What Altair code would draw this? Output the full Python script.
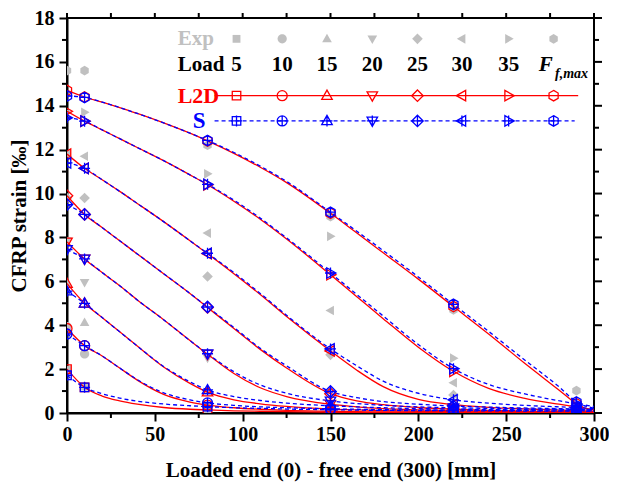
import altair as alt
import pandas as pd

# ---------------- data ----------------
X_GRID = [0, 10, 20, 30, 40, 55, 70, 80, 95, 110, 125, 150, 165, 180, 200, 220, 240, 260, 280, 290, 300]
LOADS = ["5", "10", "15", "20", "25", "30", "35", "Ffmax"]
MARKER_X = [0, 10, 80, 150, 220, 290]

L2D_5 = [2.00, 1.17, 0.77, 0.55, 0.40, 0.25, 0.17, 0.14, 0.10, 0.08, 0.06, 0.04, 0.03, 0.03, 0.02, 0.02, 0.02, 0.02, 0.02, 0.02, 0.02]
S_5 = [1.72, 1.17, 0.88, 0.68, 0.54, 0.41, 0.33, 0.29, 0.24, 0.21, 0.18, 0.15, 0.13, 0.12, 0.11, 0.10, 0.10, 0.09, 0.09, 0.08, 0.08]
L2D_10 = [3.85, 3.07, 2.60, 2.05, 1.50, 0.85, 0.50, 0.36, 0.24, 0.17, 0.12, 0.08, 0.06, 0.05, 0.04, 0.03, 0.03, 0.02, 0.02, 0.02, 0.02]
S_10 = [3.60, 3.07, 2.60, 2.05, 1.52, 0.92, 0.60, 0.46, 0.35, 0.28, 0.24, 0.19, 0.17, 0.15, 0.14, 0.13, 0.12, 0.11, 0.10, 0.10, 0.10]
L2D_15 = [5.90, 5.00, 4.35, 3.70, 3.05, 2.10, 1.35, 0.95, 0.60, 0.42, 0.30, 0.18, 0.14, 0.11, 0.08, 0.06, 0.05, 0.04, 0.03, 0.03, 0.03]
S_15 = [5.55, 5.00, 4.35, 3.70, 3.05, 2.12, 1.42, 1.05, 0.75, 0.57, 0.45, 0.33, 0.28, 0.24, 0.20, 0.18, 0.16, 0.15, 0.14, 0.13, 0.13]
L2D_20 = [7.80, 7.02, 6.40, 5.80, 5.15, 4.25, 3.30, 2.68, 1.80, 1.15, 0.75, 0.40, 0.28, 0.20, 0.14, 0.10, 0.08, 0.06, 0.05, 0.04, 0.04]
S_20 = [7.45, 7.02, 6.40, 5.80, 5.15, 4.25, 3.30, 2.70, 1.88, 1.28, 0.90, 0.55, 0.43, 0.35, 0.28, 0.24, 0.21, 0.19, 0.17, 0.16, 0.15]
L2D_25 = [9.90, 9.05, 8.45, 7.85, 7.25, 6.35, 5.45, 4.81, 3.85, 2.90, 2.05, 0.88, 0.55, 0.38, 0.25, 0.17, 0.12, 0.09, 0.07, 0.06, 0.05]
S_25 = [9.50, 9.05, 8.45, 7.85, 7.25, 6.35, 5.45, 4.83, 3.90, 2.95, 2.15, 0.98, 0.70, 0.52, 0.40, 0.32, 0.27, 0.23, 0.20, 0.18, 0.16]
L2D_30 = [11.80, 11.15, 10.63, 10.10, 9.55, 8.72, 7.85, 7.26, 6.35, 5.40, 4.40, 2.83, 1.95, 1.20, 0.62, 0.38, 0.26, 0.19, 0.13, 0.11, 0.08]
S_30 = [11.40, 11.15, 10.63, 10.10, 9.55, 8.72, 7.85, 7.28, 6.40, 5.45, 4.45, 2.92, 2.15, 1.45, 0.90, 0.60, 0.45, 0.35, 0.28, 0.25, 0.20]
L2D_35 = [13.75, 13.30, 12.90, 12.50, 12.10, 11.50, 10.85, 10.40, 9.65, 8.83, 7.93, 6.30, 5.30, 4.30, 3.00, 1.90, 1.12, 0.68, 0.40, 0.28, 0.15]
S_35 = [13.45, 13.30, 12.90, 12.50, 12.10, 11.50, 10.85, 10.42, 9.70, 8.88, 7.98, 6.38, 5.40, 4.42, 3.12, 2.02, 1.30, 0.88, 0.56, 0.42, 0.30]
L2D_FF = [14.70, 14.40, 14.17, 13.92, 13.65, 13.22, 12.75, 12.40, 11.83, 11.20, 10.50, 9.10, 8.20, 7.30, 6.10, 4.85, 3.60, 2.30, 1.05, 0.42, 0.03]
S_FF = [14.45, 14.38, 14.17, 13.92, 13.65, 13.22, 12.75, 12.42, 11.87, 11.25, 10.55, 9.15, 8.28, 7.40, 6.20, 4.95, 3.72, 2.45, 1.20, 0.50, 0.22]

EXP_X = [0, 10, 80, 150, 220, 290]
EXP_5 = [1.96, 1.20, 0.15, 0.05, 0.03, 0.02]
EXP_10 = [3.94, 2.69, 0.30, 0.10, 0.05, 0.03]
EXP_15 = [5.90, 4.12, 1.00, 0.20, 0.05, 0.03]
EXP_20 = [7.85, 5.95, 2.50, 0.35, 0.10, 0.05]
EXP_25 = [9.80, 9.80, 6.22, 2.65, 0.82, 0.05]
EXP_30 = [11.80, 11.70, 8.20, 4.67, 1.38, 0.10]
EXP_35 = [13.70, 13.70, 10.90, 8.05, 2.50, 0.30]
EXP_FF = [15.60, 15.60, 12.20, 8.95, 4.70, 1.02]

# legend (in data units)
LEG_X = [96.5, 122.5, 148.0, 173.8, 199.5, 224.8, 251.4, 277.0]
LEG_NUM = ["5", "10", "15", "20", "25", "30", "35"]
LEG_Y_EXP = 17.05
LEG_Y_LOAD = 15.86
LEG_Y_L2D = 14.46
LEG_Y_S = 13.31
LEG_LINE_L2D = [84.0, 291.0]
LEG_LINE_S = [84.0, 289.0]

X_MAJOR = [0, 50, 100, 150, 200, 250, 300]
X_MINOR = [25, 75, 125, 175, 225, 275]
Y_MAJOR = [0, 2, 4, 6, 8, 10, 12, 14, 16, 18]
Y_MINOR = [1, 3, 5, 7, 9, 11, 13, 15, 17]

# ---------------- build tables ----------------
l2d = [L2D_5, L2D_10, L2D_15, L2D_20, L2D_25, L2D_30, L2D_35, L2D_FF]
s_ = [S_5, S_10, S_15, S_20, S_25, S_30, S_35, S_FF]
exps = [EXP_5, EXP_10, EXP_15, EXP_20, EXP_25, EXP_30, EXP_35, EXP_FF]

rows_l2d, rows_s, rows_exp = [], [], []
for ld, a, b, e in zip(LOADS, l2d, s_, exps):
    for x, y in zip(X_GRID, a):
        rows_l2d.append({"x": x, "y": y, "load": ld})
    for x, y in zip(X_GRID, b):
        rows_s.append({"x": x, "y": y, "load": ld})
    for x, y in zip(EXP_X, e):
        rows_exp.append({"x": x, "y": y, "load": ld})
df_l2d = pd.DataFrame(rows_l2d)
df_s = pd.DataFrame(rows_s)
df_exp = pd.DataFrame(rows_exp)

mk_l2d = df_l2d[df_l2d.x.isin(MARKER_X)]
mk_s = df_s[df_s.x.isin(MARKER_X)]
mk_l2d = pd.concat([mk_l2d, pd.DataFrame({"x": LEG_X, "y": LEG_Y_L2D, "load": LOADS})])
mk_s = pd.concat([mk_s, pd.DataFrame({"x": LEG_X, "y": LEG_Y_S, "load": LOADS})])
mk_exp = pd.concat([df_exp, pd.DataFrame({"x": LEG_X, "y": LEG_Y_EXP, "load": LOADS})])

# ---------------- shapes ----------------
P = {
    "5": "M-0.85,-0.85L0.85,-0.85L0.85,0.85L-0.85,0.85Z",
    "10": "M1,0A1,1,0,1,1,-1,0A1,1,0,1,1,1,0Z",
    "15": "M0,-1.1L1.05,0.75L-1.05,0.75Z",
    "20": "M0,1.1L1.05,-0.75L-1.05,-0.75Z",
    "25": "M0,-1.15L1.15,0L0,1.15L-1.15,0Z",
    "30": "M-1.1,0L0.75,-1.05L0.75,1.05Z",
    "35": "M1.1,0L-0.75,-1.05L-0.75,1.05Z",
    "Ffmax": "M0,-1.05L0.91,-0.525L0.91,0.525L0,1.05L-0.91,0.525L-0.91,-0.525Z",
}
CROSS = "M0,-1.1L0,1.1M-1.1,0L1.1,0"
plain = [P[k] for k in LOADS]
crossed = [P[k] + CROSS for k in LOADS]

W, H = 527, 395
FONT = "Liberation Serif"
RED = "#ff0000"
BLUE = "#0000ff"
GRAY = "#c0c0c0"

xs = alt.Scale(domain=[0, 300], nice=False, zero=False)
ys = alt.Scale(domain=[0, 18], nice=False, zero=False)

x_axis = alt.Axis(values=X_MAJOR, title="Loaded end (0) - free end (300) [mm]",
                  labelFont=FONT, labelFontWeight="bold", labelFontSize=20,
                  titleFont=FONT, titleFontWeight="bold", titleFontSize=21,
                  tickSize=8, tickWidth=2, domainWidth=2, labelPadding=3,
                  titlePadding=15, grid=False, labelFlush=False)
y_axis = alt.Axis(values=Y_MAJOR, title="CFRP strain [‰]",
                  labelFont=FONT, labelFontWeight="bold", labelFontSize=20,
                  titleFont=FONT, titleFontWeight="bold", titleFontSize=21,
                  tickSize=8, tickWidth=2, domainWidth=2, labelPadding=5,
                  titlePadding=5, grid=False, labelFlush=False)


def X(f):
    return alt.X(f, scale=xs, axis=x_axis)


def Y(f):
    return alt.Y(f, scale=ys, axis=y_axis)


def shape_of(rng):
    return alt.Shape("load:N", scale=alt.Scale(domain=LOADS, range=rng), legend=None)


lines_red = alt.Chart(df_l2d).mark_line(color=RED, strokeWidth=1.3, clip=True, interpolate="monotone").encode(
    x=X("x:Q"), y=Y("y:Q"), detail="load:N")
lines_blue = alt.Chart(df_s).mark_line(color=BLUE, strokeWidth=1.3, strokeDash=[4, 3], clip=True,
                                       interpolate="monotone").encode(
    x=X("x:Q"), y=Y("y:Q"), detail="load:N")

pts_exp = alt.Chart(mk_exp).mark_point(filled=True, color=GRAY, opacity=1, size=85, clip=True).encode(
    x=X("x:Q"), y=Y("y:Q"), shape=shape_of(plain))
pts_red = alt.Chart(mk_l2d).mark_point(filled=False, color=RED, opacity=1, size=100, strokeWidth=1.3,
                                       clip=True).encode(
    x=X("x:Q"), y=Y("y:Q"), shape=shape_of(plain))
pts_blue = alt.Chart(mk_s).mark_point(filled=False, color=BLUE, opacity=1, size=100, strokeWidth=1.3,
                                      clip=True).encode(
    x=X("x:Q"), y=Y("y:Q"), shape=shape_of(crossed))

# legend lines
leg_red = alt.Chart(pd.DataFrame({"x": [LEG_LINE_L2D[0]], "x2": [LEG_LINE_L2D[1]], "y": [LEG_Y_L2D]})).mark_rule(
    color=RED, strokeWidth=1.3).encode(x=X("x:Q"), x2="x2:Q", y=Y("y:Q"))
leg_blue = alt.Chart(pd.DataFrame({"x": [LEG_LINE_S[0]], "x2": [LEG_LINE_S[1]], "y": [LEG_Y_S]})).mark_rule(
    color=BLUE, strokeWidth=1.3, strokeDash=[4, 3]).encode(x=X("x:Q"), x2="x2:Q", y=Y("y:Q"))


def txt(df, color, size, align="left", style="normal"):
    return alt.Chart(df).mark_text(font=FONT, fontWeight="bold", fontSize=size, color=color, align=align,
                                   baseline="middle", fontStyle=style).encode(
        x=X("x:Q"), y=Y("y:Q"), text="t:N")


t_exp = txt(pd.DataFrame({"x": [63.0], "y": [LEG_Y_EXP], "t": ["Exp"]}), GRAY, 21)
t_load = txt(pd.DataFrame({"x": [63.0], "y": [LEG_Y_LOAD], "t": ["Load"]}), "black", 21)
t_l2d = txt(pd.DataFrame({"x": [63.0], "y": [LEG_Y_L2D], "t": ["L2D"]}), RED, 22)
t_s = txt(pd.DataFrame({"x": [71.6], "y": [LEG_Y_S], "t": ["S"]}), BLUE, 23)
t_nums = txt(pd.DataFrame({"x": LEG_X[:7], "y": LEG_Y_LOAD, "t": LEG_NUM}), "black", 21, align="center")
t_F = txt(pd.DataFrame({"x": [276.5], "y": [LEG_Y_LOAD], "t": ["F"]}), "black", 21, align="right", style="italic")
t_sub = txt(pd.DataFrame({"x": [277.8], "y": [15.43], "t": ["f,max"]}), "black", 14, style="italic")


# extra ticks (minor ticks and mirrored top/right ticks)
def vticks(vals, y0, y1):
    return alt.Chart(pd.DataFrame({"x": vals})).mark_rule(color="black", strokeWidth=2).encode(
        x=X("x:Q"), y=alt.value(y0), y2=alt.value(y1))


def hticks(vals, x0, x1):
    return alt.Chart(pd.DataFrame({"y": vals})).mark_rule(color="black", strokeWidth=2).encode(
        y=Y("y:Q"), x=alt.value(x0), x2=alt.value(x1))


ticks = [
    vticks(X_MINOR, H, H + 5),
    vticks(X_MAJOR + X_MINOR, 0, -5),
    hticks(Y_MINOR, 0, -5),
    hticks(Y_MAJOR, W, W + 8),
    hticks(Y_MINOR, W, W + 5),
]

chart = alt.layer(
    pts_exp, lines_red, lines_blue, pts_red, pts_blue,
    leg_red, leg_blue, t_exp, t_load, t_l2d, t_s, t_nums, t_F, t_sub,
    *ticks
).resolve_scale(shape="independent").properties(
    width=W, height=H,
    autosize=alt.AutoSizeParams(type="none"),
    padding={"left": 59, "top": 10, "right": 15, "bottom": 70},
).configure_view(stroke="black", strokeWidth=2).configure_axis(
    domainColor="black", tickColor="black", labelColor="black", titleColor="black")

chart.save("out.html", embed_options={"renderer": "svg", "actions": False})
